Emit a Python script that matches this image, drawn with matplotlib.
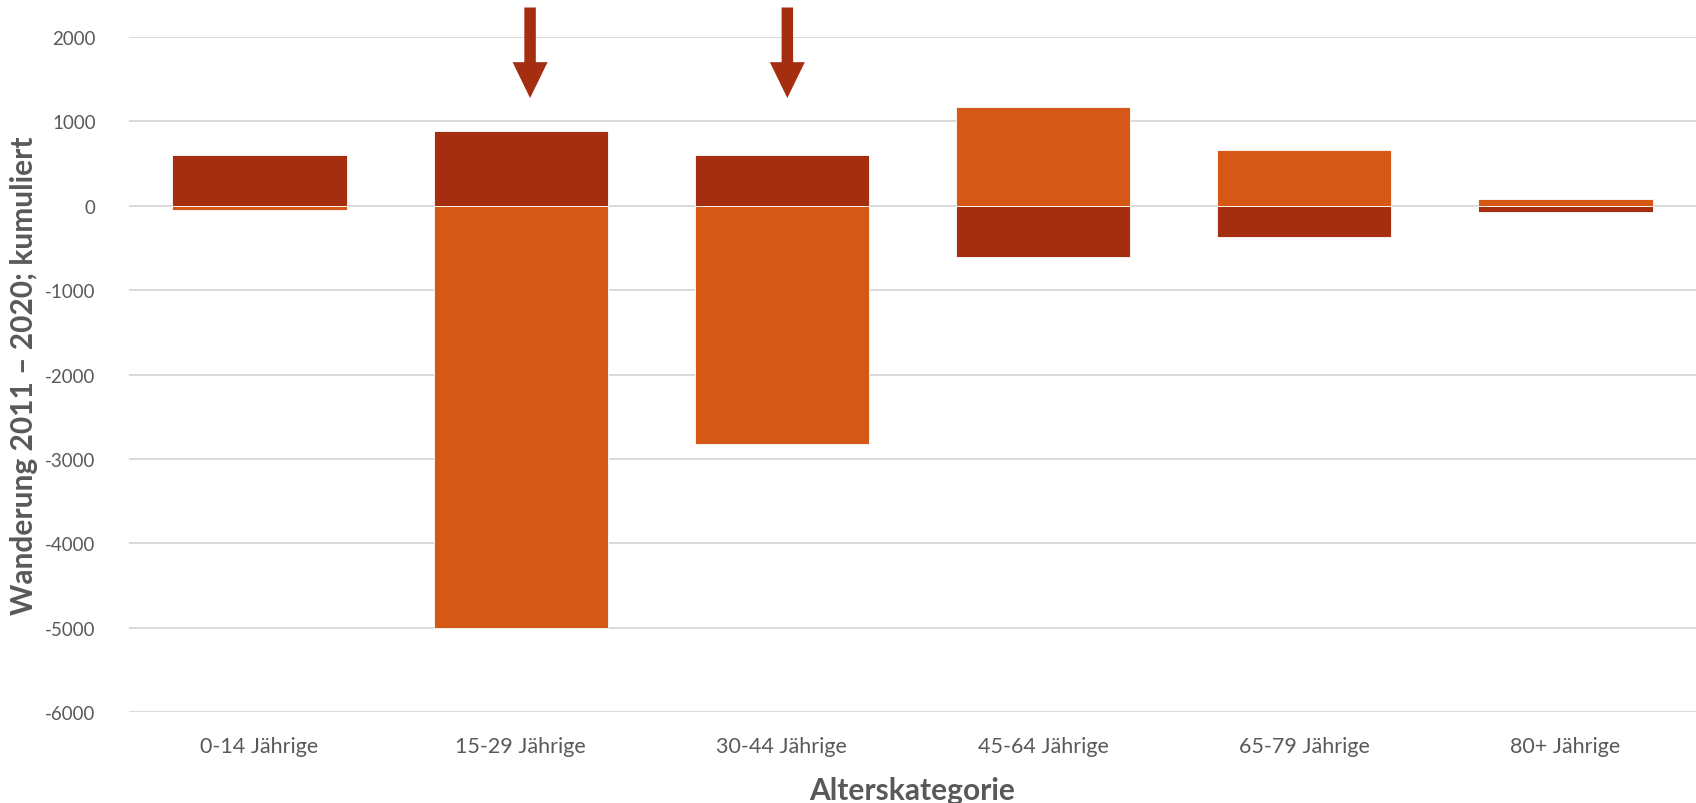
import matplotlib
matplotlib.use("Agg")
import matplotlib.pyplot as plt
from matplotlib.patches import FancyArrow

categories = ["0-14 Jährige", "15-29 Jährige", "30-44 Jährige",
              "45-64 Jährige", "65-79 Jährige", "80+ Jährige"]
dark_series = [600, 890, 600, -610, -365, -75]
orange_series = [-50, -5000, -2820, 1168, 662, 80]
arrow_categories = [1, 2]
arrow_offsets = [0.036, 0.021]
yticks = [2000, 1000, 0, -1000, -2000, -3000, -4000, -5000, -6000]

DARK = "#A52E11"
ORANGE = "#D55816"
GRID = "#D9D9D9"
TEXT = "#595959"

plt.rcParams["font.family"] = ["Lato", "DejaVu Sans"]

fig = plt.figure(figsize=(16.96, 8.04), dpi=100)
ax = fig.add_axes([0.076, 0.1132, 0.924, 0.8395])

x = list(range(len(categories)))
w = 0.667
ax.bar(x, dark_series, width=w, color=DARK, edgecolor="white", linewidth=0.6, zorder=3)
ax.bar(x, orange_series, width=w, color=ORANGE, edgecolor="white", linewidth=0.6, zorder=3)

ax.set_xlim(-0.5, len(categories) - 0.5)
ax.set_ylim(-6000, 2000)
ax.set_yticks(yticks)
ax.set_yticklabels([str(v) for v in yticks])
ax.set_xticks(x)
ax.set_xticklabels(categories)
ax.yaxis.grid(True, color=GRID, linewidth=1.4, zorder=0)
ax.set_axisbelow(True)
for s in ax.spines.values():
    s.set_visible(False)
ax.tick_params(axis="both", length=0, labelcolor=TEXT)
ax.tick_params(axis="y", pad=24, labelsize=13.5)
ax.tick_params(axis="x", pad=17, labelsize=15.5)

ax.set_ylabel("Wanderung 2011 – 2020; kumuliert", fontsize=21.5, fontweight="bold",
              color=TEXT, labelpad=5)
ax.set_xlabel("Alterskategorie", fontsize=21.5, fontweight="bold", color=TEXT, labelpad=15)

# arrows
for c, off in zip(arrow_categories, arrow_offsets):
    xc = c + off
    arr = FancyArrow(xc, 2350, 0, 1277 - 2350, width=0.044, head_width=0.134,
                     head_length=1702 - 1277, length_includes_head=True,
                     color=DARK, clip_on=False, zorder=5, linewidth=0)
    ax.add_patch(arr)

fig.savefig("out.png", dpi=100)
